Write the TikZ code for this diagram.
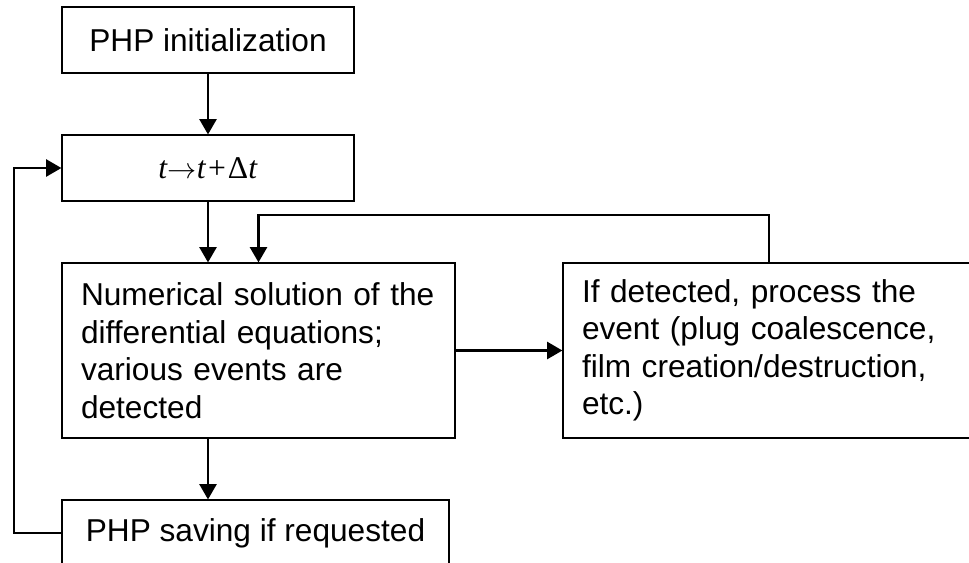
\documentclass[tikz,border=0pt]{standalone}
\usepackage{fontspec}
\setmainfont{Liberation Sans}
\newfontfamily\timesfont{Liberation Serif}
\usetikzlibrary{arrows.meta}

\begin{document}
\begin{tikzpicture}[
    stepbox/.style={draw, rectangle, line width=0.8pt, inner sep=0pt,
        minimum height=1.65cm, font=\fontsize{22.5pt}{26.7pt}\selectfont},
    textbox/.style={stepbox, align=left, text width=#1, inner xsep=0.475cm,
        minimum height=4.375cm},
    flow/.style={line width=1.9pt, -{Triangle[width=0.42cm, length=0.38cm]}}
]
    % Page frame
    \useasboundingbox (0,0) rectangle (24.225,-14.05);

    % Main steps
    \node[stepbox, minimum width=7.3cm] (init) at (5.2,-1.0) {PHP initialization};
    \node[stepbox, minimum width=7.3cm] (tstep) at (5.2,-4.2)
        {\timesfont\textit{t}$\rightarrow$\textit{t}\kern0.06em+\kern0.06emΔ\textit{t}};
    \node[textbox=8.875cm] (solve) at (6.4625,-8.7625)
        {Numerical solution of the\\differential equations;\\various events are\\detected};
    \node[textbox=9.35cm] (event) at (19.225,-8.7625)
        {If detected, process the\\event (plug coalescence,\\film creation/destruction,\\etc.)};
    \node[stepbox, minimum width=9.675cm] (save) at (6.3875,-13.325) {PHP saving if requested};

    % Helper coordinates for the loops
    \coordinate (back) at (0.35,0);
    \coordinate (fb) at (0,-5.375);

    % Downward flow
    \draw[flow] (init.south) -- (tstep.north);
    \draw[flow] (tstep.south) -- (tstep.south |- solve.north);
    \draw[flow] (tstep.south |- solve.south) -- (tstep.south |- save.north);
    \draw[flow] (solve.east) -- (event.west);

    % Event feedback
    \draw[flow] (event.north) |- (solve.north |- fb) -- (solve.north);

    % Time loop
    \draw[flow] (save.west) -- (back |- save.west) -- (back |- tstep.west) -- (tstep.west);

\end{tikzpicture}
\end{document}
